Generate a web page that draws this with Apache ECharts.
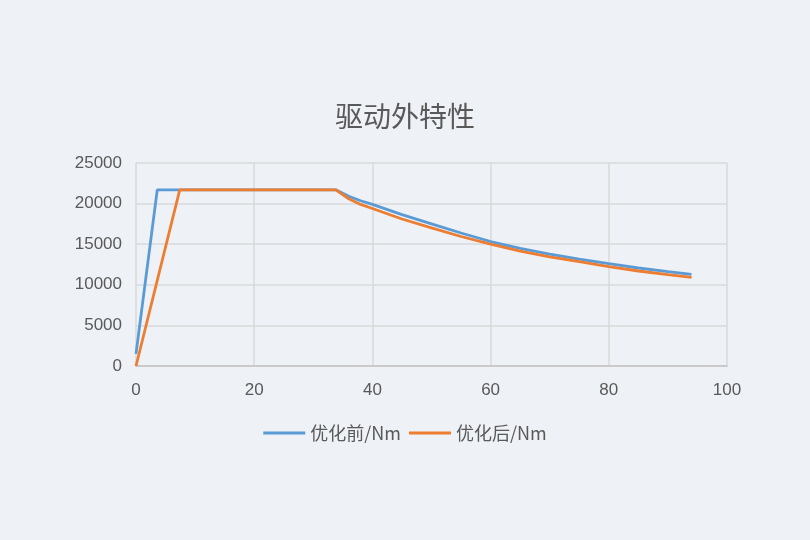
<!DOCTYPE html>
<html><head><meta charset="utf-8">
<script src="https://cdn.jsdelivr.net/npm/echarts@6/dist/echarts.min.js"></script>
<style>html,body{margin:0;padding:0;background:#eef1f6;}#c{width:810px;height:540px;}</style>
</head><body><div id="c"></div>
<script>
var titleText = '驱动外特性';
var seriesNames = ['优化前/Nm', '优化后/Nm'];
var beforeX = [0, 3.6, 33.8, 36, 38, 40, 45, 50, 55, 60, 65, 70, 75, 80, 85, 90, 94];
var beforeY = [1500, 21700, 21700, 20900, 20350, 19900, 18650, 17500, 16380, 15330, 14480, 13780, 13150, 12600, 12070, 11620, 11290];
var afterX = [0, 7.4, 33.8, 36, 38, 40, 45, 50, 55, 60, 65, 70, 75, 80, 85, 90, 94];
var afterY = [0, 21700, 21700, 20600, 19900, 19400, 18100, 17000, 15950, 15000, 14150, 13450, 12850, 12250, 11700, 11250, 10920];

function pairs(xs, ys){ return xs.map(function(x,i){ return [x, ys[i]]; }); }

var chart = echarts.init(document.getElementById('c'));
chart.setOption({
  backgroundColor: '#eef1f6',
  animation: false,
  title: { text: titleText, left: 'center', top: 97,
    textStyle: { fontSize: 28, fontWeight: 'normal', color: '#595959', fontFamily: 'Noto Sans CJK SC' } },
  legend: { bottom: 93, left: 'center', itemWidth: 42, itemHeight: 3, itemGap: 8,
    icon: 'rect',
    textStyle: { fontSize: 18, color: '#595959', fontFamily: 'Noto Sans CJK SC' },
    data: seriesNames },
  grid: { left: 136, right: 83, top: 163, bottom: 174, containLabel: false, show: false },
  xAxis: { type: 'value', min: 0, max: 100, interval: 20,
    axisLine: { lineStyle: { color: '#c4c4c4', width: 1.5 } },
    axisTick: { show: false },
    axisLabel: { fontSize: 17, color: '#595959', margin: 16, fontFamily: 'Liberation Sans' },
    splitLine: { show: true, lineStyle: { color: '#d9d9d9', width: 1.5 } } },
  yAxis: { type: 'value', min: 0, max: 25000, interval: 5000,
    axisLine: { show: false },
    axisTick: { show: false },
    axisLabel: { fontSize: 17, color: '#595959', margin: 14, fontFamily: 'Liberation Sans',
      formatter: function(v){ return String(v); } },
    splitLine: { show: true, lineStyle: { color: '#d9d9d9', width: 1.5 } } },
  series: [
    { name: seriesNames[0], type: 'line', data: pairs(beforeX, beforeY), showSymbol: false,
      lineStyle: { color: '#5b9bd5', width: 2.8 }, itemStyle: { color: '#5b9bd5' } },
    { name: seriesNames[1], type: 'line', data: pairs(afterX, afterY), showSymbol: false,
      lineStyle: { color: '#ed7d31', width: 2.8 }, itemStyle: { color: '#ed7d31' } }
  ]
});
</script></body></html>
